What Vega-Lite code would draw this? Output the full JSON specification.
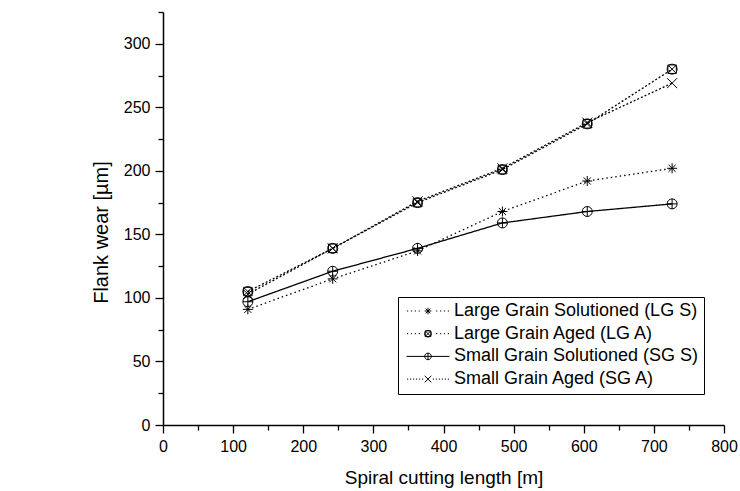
{
  "$schema": "https://vega.github.io/schema/vega-lite/v6.json",
  "width": 561,
  "height": 413,
  "autosize": {"type": "none"},
  "padding": {"left": 163, "top": 12, "right": 16, "bottom": 66},
  "background": "white",
  "config": {
    "view": {"stroke": null},
    "font": "Liberation Sans",
    "axis": {
      "domainColor": "black",
      "domainWidth": 1.5,
      "tickColor": "black",
      "tickWidth": 1.3,
      "labelColor": "black",
      "titleColor": "black",
      "labelFont": "Liberation Sans",
      "titleFont": "Liberation Sans",
      "titleFontWeight": "normal",
      "grid": false
    }
  },
  "data": {
    "values": [
      {"length": 121, "wear": 91, "series": "Large Grain Solutioned (LG S)"},
      {"length": 242, "wear": 115, "series": "Large Grain Solutioned (LG S)"},
      {"length": 363, "wear": 137, "series": "Large Grain Solutioned (LG S)"},
      {"length": 484, "wear": 168, "series": "Large Grain Solutioned (LG S)"},
      {"length": 605, "wear": 192, "series": "Large Grain Solutioned (LG S)"},
      {"length": 726, "wear": 202, "series": "Large Grain Solutioned (LG S)"},
      {"length": 121, "wear": 105, "series": "Large Grain Aged (LG A)"},
      {"length": 242, "wear": 139, "series": "Large Grain Aged (LG A)"},
      {"length": 363, "wear": 175, "series": "Large Grain Aged (LG A)"},
      {"length": 484, "wear": 201, "series": "Large Grain Aged (LG A)"},
      {"length": 605, "wear": 237, "series": "Large Grain Aged (LG A)"},
      {"length": 726, "wear": 280, "series": "Large Grain Aged (LG A)"},
      {"length": 121, "wear": 97, "series": "Small Grain Solutioned (SG S)"},
      {"length": 242, "wear": 121, "series": "Small Grain Solutioned (SG S)"},
      {"length": 363, "wear": 139, "series": "Small Grain Solutioned (SG S)"},
      {"length": 484, "wear": 159, "series": "Small Grain Solutioned (SG S)"},
      {"length": 605, "wear": 168, "series": "Small Grain Solutioned (SG S)"},
      {"length": 726, "wear": 174, "series": "Small Grain Solutioned (SG S)"},
      {"length": 121, "wear": 103, "series": "Small Grain Aged (SG A)"},
      {"length": 242, "wear": 139, "series": "Small Grain Aged (SG A)"},
      {"length": 363, "wear": 176, "series": "Small Grain Aged (SG A)"},
      {"length": 484, "wear": 202, "series": "Small Grain Aged (SG A)"},
      {"length": 605, "wear": 238, "series": "Small Grain Aged (SG A)"},
      {"length": 726, "wear": 269, "series": "Small Grain Aged (SG A)"}
    ]
  },
  "encoding": {
    "x": {
      "field": "length",
      "type": "quantitative",
      "scale": {"domain": [0, 800], "nice": false},
      "axis": {
        "title": "Spiral cutting length [m]",
        "titleFontSize": 19,
        "titlePadding": 14,
        "values": [0, 50, 100, 150, 200, 250, 300, 350, 400, 450, 500, 550, 600, 650, 700, 750, 800],
        "labelExpr": "datum.value % 100 === 0 ? datum.label : ''",
        "labelFontSize": 16,
        "labelPadding": 5,
        "labelFlush": false,
        "labelOverlap": false,
        "tickSize": {"condition": {"test": "datum.value % 100 === 0", "value": 8}, "value": 5}
      }
    },
    "y": {
      "field": "wear",
      "type": "quantitative",
      "scale": {"domain": [0, 325], "nice": false},
      "axis": {
        "title": "Flank wear [µm]",
        "titleFontSize": 20,
        "titlePadding": 12,
        "titleY": 220,
        "values": [0, 25, 50, 75, 100, 125, 150, 175, 200, 225, 250, 275, 300, 325],
        "labelExpr": "datum.value % 50 === 0 ? datum.label : ''",
        "labelFontSize": 16,
        "labelPadding": 5,
        "labelFlush": false,
        "labelOverlap": false,
        "tickSize": {"condition": {"test": "datum.value % 50 === 0", "value": 8}, "value": 5}
      }
    }
  },
  "layer": [
    {
      "mark": {"type": "line", "color": "black", "strokeWidth": 1.3},
      "encoding": {
        "detail": {"field": "series"},
        "strokeDash": {
          "field": "series",
          "type": "nominal",
          "scale": {
            "domain": ["Small Grain Aged (SG A)", "Small Grain Solutioned (SG S)", "Large Grain Aged (LG A)", "Large Grain Solutioned (LG S)"],
            "range": [[2, 2], [1, 0], [2, 2], [1.5, 3]]
          },
          "legend": null
        }
      }
    },
    {
      "mark": {"type": "point", "filled": false, "strokeWidth": 1, "size": 100, "opacity": 1},
      "encoding": {
        "shape": {
          "field": "series",
          "type": "nominal",
          "scale": {
            "domain": ["Large Grain Aged (LG A)", "Large Grain Solutioned (LG S)", "Small Grain Solutioned (SG S)", "Small Grain Aged (SG A)"],
            "range": [
              "M-0.85,-0.85L0.85,-0.85L0.85,0.85L-0.85,0.85ZM1,0A1,1,0,1,1,-1,0A1,1,0,1,1,1,0ZM-0.7,-0.7L0.7,0.7M-0.7,0.7L0.7,-0.7",
              "M-1,0L1,0M0,-1L0,1M-0.71,-0.71L0.71,0.71M-0.71,0.71L0.71,-0.71",
              "M1,0A1,1,0,1,1,-1,0A1,1,0,1,1,1,0ZM-1,0L1,0M0,-1L0,1",
              "M-1,-1L1,1M-1,1L1,-1"
            ]
          },
          "legend": null
        },
        "stroke": {
          "field": "series",
          "type": "nominal",
          "scale": {
            "domain": ["Large Grain Solutioned (LG S)", "Large Grain Aged (LG A)", "Small Grain Solutioned (SG S)", "Small Grain Aged (SG A)"],
            "range": ["black", "black", "black", "black"]
          },
          "legend": {
            "title": null,
            "orient": "none",
            "legendX": 235,
            "legendY": 285,
            "padding": 5,
            "strokeColor": "black",
            "fillColor": "white",
            "cornerRadius": 0,
            "symbolSize": 36,
            "symbolOffset": 16,
            "labelOffset": 17,
            "rowPadding": 4.7,
            "labelFontSize": 18,
            "labelFont": "Liberation Sans",
            "labelColor": "black",
            "labelLimit": 400,
            "symbolFillColor": "transparent",
            "symbolStrokeWidth": 1,
            "symbolType": {"expr": "datum.value === 'Large Grain Solutioned (LG S)' ? 'M-7,0L-6.6,0M-5.7,0L-5.3,0M-4.4,0L-4,0M-3.1,0L-2.7,0M2.7,0L3.1,0M4,0L4.4,0M5.3,0L5.7,0M6.6,0L7,0M-1.1,0L1.1,0M0,-1.1L0,1.1M-0.78,-0.78L0.78,0.78M-0.78,0.78L0.78,-0.78' : datum.value === 'Large Grain Aged (LG A)' ? 'M-7,0L-6.6,0M-5.7,0L-5.3,0M-4.4,0L-4,0M-3.1,0L-2.7,0M2.7,0L3.1,0M4,0L4.4,0M5.3,0L5.7,0M6.6,0L7,0M-0.95,-0.95L0.95,-0.95L0.95,0.95L-0.95,0.95ZM1.1,0A1.1,1.1,0,1,1,-1.1,0A1.1,1.1,0,1,1,1.1,0ZM-0.78,-0.78L0.78,0.78M-0.78,0.78L0.78,-0.78' : datum.value === 'Small Grain Solutioned (SG S)' ? 'M-7.17,0L7.17,0M1.1,0A1.1,1.1,0,1,1,-1.1,0A1.1,1.1,0,1,1,1.1,0ZM0,-1.1L0,1.1' : 'M-7,0L-6.6,0M-6,0L-5.6,0M-5,0L-4.6,0M-4,0L-3.6,0M-3,0L-2.6,0M-2,0L-1.6,0M1.6,0L2,0M2.6,0L3,0M3.6,0L4,0M4.6,0L5,0M5.6,0L6,0M6.6,0L7,0M-1.1,-1.1L1.1,1.1M-1.1,1.1L1.1,-1.1'"}
          }
        }
      }
    }
  ]
}
